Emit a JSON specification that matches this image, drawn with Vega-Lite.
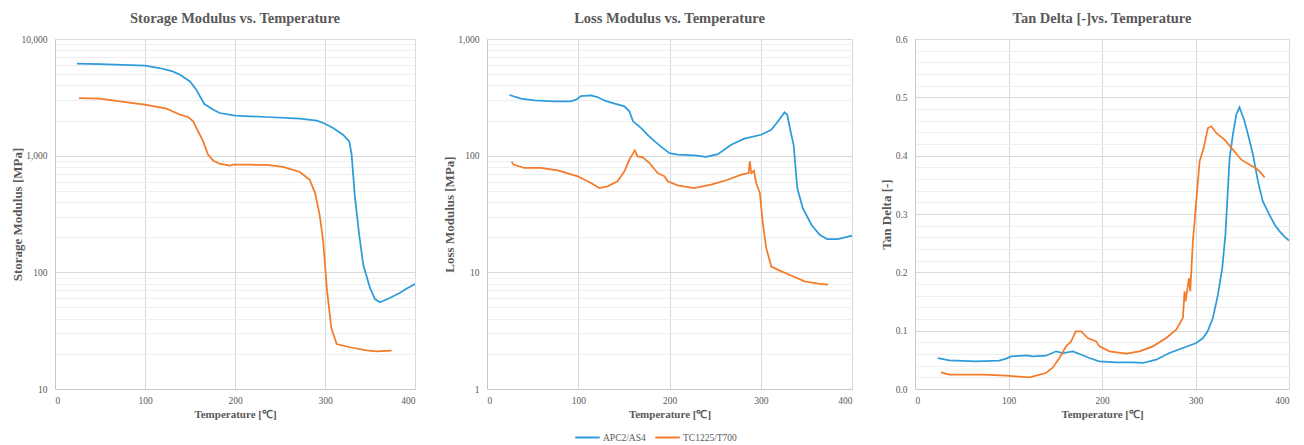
{
  "$schema": "https://vega.github.io/schema/vega-lite/v6.json",
  "padding": {"left": 11, "top": 10, "right": 5, "bottom": 2},
  "background": "white",
  "spacing": 24,
  "config": {
    "font": "Liberation Serif",
    "view": {"stroke": null},
    "title": {"font": "Liberation Serif", "fontSize": 14.5, "fontWeight": "bold", "color": "#595959", "offset": 8},
    "axis": {
      "labelFont": "Liberation Serif", "labelFontSize": 9.5, "labelColor": "#595959",
      "titleFont": "Liberation Serif", "titleFontSize": 10.5, "titleFontWeight": "bold", "titleColor": "#595959",
      "ticks": false, "domainColor": "#c8c8c8", "gridColor": "#d9d9d9", "labelPadding": 6
    },
    "axisY": {"titleFontSize": 13, "titlePadding": 3},
    "axisX": {"titleFontSize": 11},
    "legend": {"labelFont": "Liberation Serif", "labelFontSize": 9.5, "labelColor": "#595959"}
  },
  "datasets": {
    "storage": [
      {"s": "APC2/AS4", "T": 24.5, "v": 6150}, {"s": "APC2/AS4", "T": 50, "v": 6080}, {"s": "APC2/AS4", "T": 75, "v": 6000}, {"s": "APC2/AS4", "T": 100, "v": 5910}, {"s": "APC2/AS4", "T": 116, "v": 5640}, {"s": "APC2/AS4", "T": 130, "v": 5300}, {"s": "APC2/AS4", "T": 139, "v": 4940}, {"s": "APC2/AS4", "T": 150, "v": 4330}, {"s": "APC2/AS4", "T": 157, "v": 3680}, {"s": "APC2/AS4", "T": 161, "v": 3230}, {"s": "APC2/AS4", "T": 166, "v": 2770}, {"s": "APC2/AS4", "T": 176, "v": 2480}, {"s": "APC2/AS4", "T": 183, "v": 2320}, {"s": "APC2/AS4", "T": 200, "v": 2200}, {"s": "APC2/AS4", "T": 235, "v": 2145}, {"s": "APC2/AS4", "T": 272, "v": 2075}, {"s": "APC2/AS4", "T": 291, "v": 1995}, {"s": "APC2/AS4", "T": 300, "v": 1880}, {"s": "APC2/AS4", "T": 309, "v": 1725}, {"s": "APC2/AS4", "T": 320, "v": 1513}, {"s": "APC2/AS4", "T": 327, "v": 1327}, {"s": "APC2/AS4", "T": 329.6, "v": 1020}, {"s": "APC2/AS4", "T": 333, "v": 463}, {"s": "APC2/AS4", "T": 338, "v": 210}, {"s": "APC2/AS4", "T": 342.5, "v": 116}, {"s": "APC2/AS4", "T": 350, "v": 73.5}, {"s": "APC2/AS4", "T": 355.5, "v": 59}, {"s": "APC2/AS4", "T": 361, "v": 55.3}, {"s": "APC2/AS4", "T": 372, "v": 60.3}, {"s": "APC2/AS4", "T": 383, "v": 66.5}, {"s": "APC2/AS4", "T": 390, "v": 72}, {"s": "APC2/AS4", "T": 400, "v": 79.4},
      {"s": "TC1225/T700", "T": 26.7, "v": 3120}, {"s": "TC1225/T700", "T": 49.7, "v": 3080}, {"s": "TC1225/T700", "T": 72, "v": 2925}, {"s": "TC1225/T700", "T": 100, "v": 2735}, {"s": "TC1225/T700", "T": 124, "v": 2528}, {"s": "TC1225/T700", "T": 139, "v": 2245}, {"s": "TC1225/T700", "T": 148, "v": 2145}, {"s": "TC1225/T700", "T": 153.5, "v": 1968}, {"s": "TC1225/T700", "T": 159, "v": 1617}, {"s": "TC1225/T700", "T": 164.6, "v": 1327}, {"s": "TC1225/T700", "T": 170, "v": 1020}, {"s": "TC1225/T700", "T": 176, "v": 906}, {"s": "TC1225/T700", "T": 183, "v": 853}, {"s": "TC1225/T700", "T": 194, "v": 820}, {"s": "TC1225/T700", "T": 198, "v": 837}, {"s": "TC1225/T700", "T": 216.5, "v": 837}, {"s": "TC1225/T700", "T": 235, "v": 832}, {"s": "TC1225/T700", "T": 253.6, "v": 800}, {"s": "TC1225/T700", "T": 272, "v": 724}, {"s": "TC1225/T700", "T": 283, "v": 622}, {"s": "TC1225/T700", "T": 289, "v": 478}, {"s": "TC1225/T700", "T": 294, "v": 312}, {"s": "TC1225/T700", "T": 298, "v": 184}, {"s": "TC1225/T700", "T": 302, "v": 73.5}, {"s": "TC1225/T700", "T": 307, "v": 33.3}, {"s": "TC1225/T700", "T": 313, "v": 24.3}, {"s": "TC1225/T700", "T": 327.7, "v": 22.8}, {"s": "TC1225/T700", "T": 346, "v": 21.4}, {"s": "TC1225/T700", "T": 357, "v": 21.0}, {"s": "TC1225/T700", "T": 374, "v": 21.3}
    ],
    "loss": [
      {"s": "APC2/AS4", "T": 24.5, "v": 331}, {"s": "APC2/AS4", "T": 37.3, "v": 308}, {"s": "APC2/AS4", "T": 52, "v": 298}, {"s": "APC2/AS4", "T": 74, "v": 292}, {"s": "APC2/AS4", "T": 92, "v": 292}, {"s": "APC2/AS4", "T": 97.6, "v": 302}, {"s": "APC2/AS4", "T": 103, "v": 324}, {"s": "APC2/AS4", "T": 114, "v": 329}, {"s": "APC2/AS4", "T": 121, "v": 318}, {"s": "APC2/AS4", "T": 129, "v": 296}, {"s": "APC2/AS4", "T": 140, "v": 279}, {"s": "APC2/AS4", "T": 150.6, "v": 265}, {"s": "APC2/AS4", "T": 156, "v": 240}, {"s": "APC2/AS4", "T": 160, "v": 197}, {"s": "APC2/AS4", "T": 169, "v": 172}, {"s": "APC2/AS4", "T": 176, "v": 151}, {"s": "APC2/AS4", "T": 183.5, "v": 133}, {"s": "APC2/AS4", "T": 191, "v": 119}, {"s": "APC2/AS4", "T": 200, "v": 105}, {"s": "APC2/AS4", "T": 209, "v": 102}, {"s": "APC2/AS4", "T": 227, "v": 100.7}, {"s": "APC2/AS4", "T": 240, "v": 97.5}, {"s": "APC2/AS4", "T": 253, "v": 103}, {"s": "APC2/AS4", "T": 267.6, "v": 124}, {"s": "APC2/AS4", "T": 282, "v": 140}, {"s": "APC2/AS4", "T": 300.5, "v": 151}, {"s": "APC2/AS4", "T": 311.5, "v": 167}, {"s": "APC2/AS4", "T": 319, "v": 197}, {"s": "APC2/AS4", "T": 326, "v": 235}, {"s": "APC2/AS4", "T": 329, "v": 224}, {"s": "APC2/AS4", "T": 333.5, "v": 151}, {"s": "APC2/AS4", "T": 336, "v": 124}, {"s": "APC2/AS4", "T": 340, "v": 52.8}, {"s": "APC2/AS4", "T": 346, "v": 35.6}, {"s": "APC2/AS4", "T": 355.5, "v": 25.6}, {"s": "APC2/AS4", "T": 364.6, "v": 21.0}, {"s": "APC2/AS4", "T": 372.6, "v": 19.3}, {"s": "APC2/AS4", "T": 384.6, "v": 19.3}, {"s": "APC2/AS4", "T": 400, "v": 20.6},
      {"s": "TC1225/T700", "T": 27, "v": 88.9}, {"s": "TC1225/T700", "T": 29, "v": 83.8}, {"s": "TC1225/T700", "T": 41, "v": 78.4}, {"s": "TC1225/T700", "T": 59, "v": 78.4}, {"s": "TC1225/T700", "T": 77.5, "v": 74.8}, {"s": "TC1225/T700", "T": 99.5, "v": 66.5}, {"s": "TC1225/T700", "T": 114, "v": 58.3}, {"s": "TC1225/T700", "T": 123, "v": 52.8}, {"s": "TC1225/T700", "T": 132, "v": 54.6}, {"s": "TC1225/T700", "T": 143, "v": 60.3}, {"s": "TC1225/T700", "T": 150.6, "v": 73.5}, {"s": "TC1225/T700", "T": 156, "v": 92.5}, {"s": "TC1225/T700", "T": 162, "v": 111}, {"s": "TC1225/T700", "T": 165, "v": 98.6}, {"s": "TC1225/T700", "T": 170.7, "v": 96.8}, {"s": "TC1225/T700", "T": 178, "v": 86.5}, {"s": "TC1225/T700", "T": 187, "v": 71}, {"s": "TC1225/T700", "T": 194.5, "v": 66.5}, {"s": "TC1225/T700", "T": 198, "v": 60.3}, {"s": "TC1225/T700", "T": 209, "v": 55.7}, {"s": "TC1225/T700", "T": 227, "v": 52.8}, {"s": "TC1225/T700", "T": 245.7, "v": 56.4}, {"s": "TC1225/T700", "T": 264, "v": 62.2}, {"s": "TC1225/T700", "T": 278.6, "v": 68.7}, {"s": "TC1225/T700", "T": 286.7, "v": 71}, {"s": "TC1225/T700", "T": 288, "v": 89.3}, {"s": "TC1225/T700", "T": 289.6, "v": 71}, {"s": "TC1225/T700", "T": 292.5, "v": 74.3}, {"s": "TC1225/T700", "T": 295, "v": 58.3}, {"s": "TC1225/T700", "T": 299, "v": 47.9}, {"s": "TC1225/T700", "T": 302, "v": 27.4}, {"s": "TC1225/T700", "T": 306, "v": 16.2}, {"s": "TC1225/T700", "T": 311.5, "v": 11.2}, {"s": "TC1225/T700", "T": 319, "v": 10.5}, {"s": "TC1225/T700", "T": 337, "v": 9.12}, {"s": "TC1225/T700", "T": 348, "v": 8.38}, {"s": "TC1225/T700", "T": 363, "v": 8.0}, {"s": "TC1225/T700", "T": 373.7, "v": 7.84}
    ],
    "tan": [
      {"s": "APC2/AS4", "T": 24.3, "v": 0.0531}, {"s": "APC2/AS4", "T": 36.8, "v": 0.0491}, {"s": "APC2/AS4", "T": 65, "v": 0.0474}, {"s": "APC2/AS4", "T": 90, "v": 0.0486}, {"s": "APC2/AS4", "T": 97.4, "v": 0.052}, {"s": "APC2/AS4", "T": 103, "v": 0.056}, {"s": "APC2/AS4", "T": 119, "v": 0.0577}, {"s": "APC2/AS4", "T": 126, "v": 0.056}, {"s": "APC2/AS4", "T": 140, "v": 0.0571}, {"s": "APC2/AS4", "T": 151, "v": 0.0646}, {"s": "APC2/AS4", "T": 158, "v": 0.0617}, {"s": "APC2/AS4", "T": 169, "v": 0.0646}, {"s": "APC2/AS4", "T": 176, "v": 0.06}, {"s": "APC2/AS4", "T": 186.6, "v": 0.0531}, {"s": "APC2/AS4", "T": 197, "v": 0.0474}, {"s": "APC2/AS4", "T": 215, "v": 0.0457}, {"s": "APC2/AS4", "T": 233, "v": 0.0457}, {"s": "APC2/AS4", "T": 243.7, "v": 0.0446}, {"s": "APC2/AS4", "T": 258, "v": 0.0503}, {"s": "APC2/AS4", "T": 272, "v": 0.0617}, {"s": "APC2/AS4", "T": 286.5, "v": 0.0703}, {"s": "APC2/AS4", "T": 300.8, "v": 0.0789}, {"s": "APC2/AS4", "T": 308, "v": 0.0874}, {"s": "APC2/AS4", "T": 313, "v": 0.0989}, {"s": "APC2/AS4", "T": 318.6, "v": 0.1217}, {"s": "APC2/AS4", "T": 324, "v": 0.1617}, {"s": "APC2/AS4", "T": 328.6, "v": 0.2074}, {"s": "APC2/AS4", "T": 332, "v": 0.2646}, {"s": "APC2/AS4", "T": 334.7, "v": 0.3446}, {"s": "APC2/AS4", "T": 336.5, "v": 0.396}, {"s": "APC2/AS4", "T": 340, "v": 0.436}, {"s": "APC2/AS4", "T": 343.6, "v": 0.4703}, {"s": "APC2/AS4", "T": 347, "v": 0.4829}, {"s": "APC2/AS4", "T": 352.5, "v": 0.4589}, {"s": "APC2/AS4", "T": 358, "v": 0.4246}, {"s": "APC2/AS4", "T": 361.5, "v": 0.4017}, {"s": "APC2/AS4", "T": 366.8, "v": 0.356}, {"s": "APC2/AS4", "T": 372, "v": 0.3217}, {"s": "APC2/AS4", "T": 379, "v": 0.2989}, {"s": "APC2/AS4", "T": 384.7, "v": 0.2817}, {"s": "APC2/AS4", "T": 390, "v": 0.2703}, {"s": "APC2/AS4", "T": 395, "v": 0.2617}, {"s": "APC2/AS4", "T": 400, "v": 0.2543},
      {"s": "TC1225/T700", "T": 27.8, "v": 0.0286}, {"s": "TC1225/T700", "T": 36.8, "v": 0.0246}, {"s": "TC1225/T700", "T": 72.4, "v": 0.0246}, {"s": "TC1225/T700", "T": 97.4, "v": 0.0229}, {"s": "TC1225/T700", "T": 122.4, "v": 0.02}, {"s": "TC1225/T700", "T": 140, "v": 0.0274}, {"s": "TC1225/T700", "T": 147, "v": 0.036}, {"s": "TC1225/T700", "T": 154.5, "v": 0.0531}, {"s": "TC1225/T700", "T": 161.6, "v": 0.0731}, {"s": "TC1225/T700", "T": 167, "v": 0.0817}, {"s": "TC1225/T700", "T": 172, "v": 0.0989}, {"s": "TC1225/T700", "T": 177.7, "v": 0.0989}, {"s": "TC1225/T700", "T": 184.8, "v": 0.0874}, {"s": "TC1225/T700", "T": 193.8, "v": 0.0817}, {"s": "TC1225/T700", "T": 197.3, "v": 0.0731}, {"s": "TC1225/T700", "T": 208, "v": 0.0646}, {"s": "TC1225/T700", "T": 226, "v": 0.0606}, {"s": "TC1225/T700", "T": 240, "v": 0.0646}, {"s": "TC1225/T700", "T": 254.4, "v": 0.0731}, {"s": "TC1225/T700", "T": 268.7, "v": 0.0874}, {"s": "TC1225/T700", "T": 279.4, "v": 0.1017}, {"s": "TC1225/T700", "T": 286.5, "v": 0.1217}, {"s": "TC1225/T700", "T": 288.3, "v": 0.1674}, {"s": "TC1225/T700", "T": 289.4, "v": 0.1503}, {"s": "TC1225/T700", "T": 293, "v": 0.19}, {"s": "TC1225/T700", "T": 294.4, "v": 0.1674}, {"s": "TC1225/T700", "T": 297.2, "v": 0.2531}, {"s": "TC1225/T700", "T": 300.8, "v": 0.3217}, {"s": "TC1225/T700", "T": 304.4, "v": 0.3903}, {"s": "TC1225/T700", "T": 308.7, "v": 0.4131}, {"s": "TC1225/T700", "T": 313.3, "v": 0.4474}, {"s": "TC1225/T700", "T": 316.9, "v": 0.4503}, {"s": "TC1225/T700", "T": 322.2, "v": 0.4389}, {"s": "TC1225/T700", "T": 331, "v": 0.4274}, {"s": "TC1225/T700", "T": 340, "v": 0.4103}, {"s": "TC1225/T700", "T": 349, "v": 0.3931}, {"s": "TC1225/T700", "T": 358, "v": 0.3846}, {"s": "TC1225/T700", "T": 366.8, "v": 0.376}, {"s": "TC1225/T700", "T": 374, "v": 0.3629}
    ]
  },
  "hconcat": [
    {
      "width": 360, "height": 350,
      "title": "Storage Modulus vs. Temperature",
      "data": {"name": "storage"},
      "mark": {"type": "line", "strokeWidth": 1.75},
      "encoding": {
        "x": {"field": "T", "type": "quantitative", "scale": {"domain": [0, 400], "nice": false}, "axis": {"title": "Temperature [℃]", "values": [0, 100, 200, 300, 400]}},
        "y": {"field": "v", "type": "quantitative", "scale": {"type": "log", "domain": [10, 10000], "nice": false},
          "axis": {"title": "Storage Modulus [MPa]", "titleX": -30.5, "labelOverlap": false, "labelPadding": 8,
            "values": [10, 20, 30, 40, 50, 60, 70, 80, 90, 100, 200, 300, 400, 500, 600, 700, 800, 900, 1000, 2000, 3000, 4000, 5000, 6000, 7000, 8000, 9000, 10000],
            "labelExpr": "indexof([10, 100, 1000, 10000], datum.value) >= 0 ? format(datum.value, ',') : ''",
            "gridColor": {"condition": {"test": "indexof([10, 100, 1000, 10000], datum.value) >= 0", "value": "#d9d9d9"}, "value": "#eeeeee"}}},
        "color": {"field": "s", "type": "nominal", "scale": {"domain": ["APC2/AS4", "TC1225/T700"], "range": ["#2E9CDB", "#F47B28"]},
          "legend": {"title": null, "orient": "none", "direction": "horizontal", "legendX": 519, "legendY": 385, "symbolType": "stroke", "symbolSize": 600, "symbolStrokeWidth": 2, "columnPadding": 5, "labelOffset": 2}}
      }
    },
    {
      "width": 365, "height": 350,
      "title": "Loss Modulus vs. Temperature",
      "data": {"name": "loss"},
      "mark": {"type": "line", "strokeWidth": 1.75},
      "encoding": {
        "x": {"field": "T", "type": "quantitative", "scale": {"domain": [0, 400], "nice": false}, "axis": {"title": "Temperature [℃]", "values": [0, 100, 200, 300, 400]}},
        "y": {"field": "v", "type": "quantitative", "scale": {"type": "log", "domain": [1, 1000], "nice": false},
          "axis": {"title": "Loss Modulus [MPa]", "titleX": -30.5, "labelOverlap": false, "labelPadding": 8,
            "values": [1, 2, 3, 4, 5, 6, 7, 8, 9, 10, 20, 30, 40, 50, 60, 70, 80, 90, 100, 200, 300, 400, 500, 600, 700, 800, 900, 1000],
            "labelExpr": "indexof([1, 10, 100, 1000], datum.value) >= 0 ? format(datum.value, ',') : ''",
            "gridColor": {"condition": {"test": "indexof([1, 10, 100, 1000], datum.value) >= 0", "value": "#d9d9d9"}, "value": "#eeeeee"}}},
        "color": {"field": "s", "type": "nominal", "scale": {"domain": ["APC2/AS4", "TC1225/T700"], "range": ["#2E9CDB", "#F47B28"]}}
      }
    },
    {
      "width": 374, "height": 350,
      "title": "Tan Delta [-]vs. Temperature",
      "data": {"name": "tan"},
      "mark": {"type": "line", "strokeWidth": 1.75},
      "encoding": {
        "x": {"field": "T", "type": "quantitative", "scale": {"domain": [0, 400], "nice": false}, "axis": {"title": "Temperature [℃]", "values": [0, 100, 200, 300, 400]}},
        "y": {"field": "v", "type": "quantitative", "scale": {"domain": [0, 0.6], "nice": false, "zero": true},
          "axis": {"title": "Tan Delta [-]", "titleX": -21.5, "labelOverlap": false, "labelPadding": 8,
            "values": [0, 0.02, 0.04, 0.06, 0.08, 0.1, 0.12, 0.14, 0.16, 0.18, 0.2, 0.22, 0.24, 0.26, 0.28, 0.3, 0.32, 0.34, 0.36, 0.38, 0.4, 0.42, 0.44, 0.46, 0.48, 0.5, 0.52, 0.54, 0.56, 0.58, 0.6],
            "labelExpr": "abs(datum.value * 10 - round(datum.value * 10)) < 0.000001 ? format(datum.value, '.1f') : ''",
            "gridColor": {"condition": {"test": "abs(datum.value * 10 - round(datum.value * 10)) < 0.000001", "value": "#d9d9d9"}, "value": "#eeeeee"}}},
        "color": {"field": "s", "type": "nominal", "scale": {"domain": ["APC2/AS4", "TC1225/T700"], "range": ["#2E9CDB", "#F47B28"]}}
      }
    }
  ]
}
